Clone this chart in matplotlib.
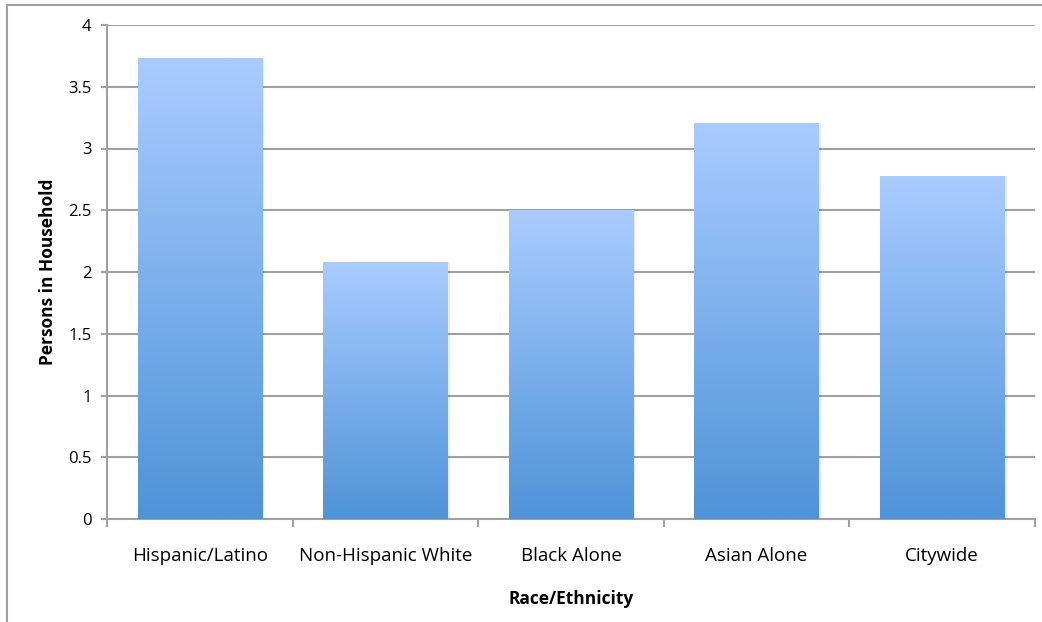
import matplotlib.pyplot as plt
import numpy as np
from matplotlib.colors import LinearSegmentedColormap
from matplotlib.lines import Line2D

plt.rcParams['font.family'] = ['Open Sans', 'DejaVu Sans']

groups = ['Hispanic/Latino', 'Non-Hispanic White', 'Black Alone', 'Asian Alone', 'Citywide']
persons = [3.73, 2.08, 2.50, 3.21, 2.78]
yticks = [0, 0.5, 1, 1.5, 2, 2.5, 3, 3.5, 4]
ytick_labels = ['0', '0.5', '1', '1.5', '2', '2.5', '3', '3.5', '4']

fig = plt.figure(figsize=(10.42, 6.22), dpi=100)
ax = fig.add_axes([107 / 1042, 1 - 519 / 622, 928 / 1042, 494 / 622])

grad = LinearSegmentedColormap.from_list('bar', ['#4f93d8', '#a9ccff'])
grad_img = np.linspace(0, 1, 256).reshape(-1, 1)

for i, v in enumerate(persons):
    left, w = i - 0.335, 0.67
    # soft shadow
    ax.bar(i + 0.012, v, width=w, bottom=0, color='#000000', alpha=0.08, zorder=2, linewidth=0)
    bar = ax.bar(i, v, width=w, color='none', linewidth=0, zorder=3)[0]
    im = ax.imshow(grad_img, cmap=grad, origin='lower', aspect='auto',
                   extent=[left, left + w, 0, v], zorder=3)
    im.set_clip_path(bar)

ax.set_xlim(-0.5, len(groups) - 0.5)
ax.set_ylim(0, 4)

ax.set_yticks(yticks)
ax.set_yticklabels(ytick_labels, fontsize=12)
ax.yaxis.grid(True, color='#a0a0a0', linewidth=1.5, zorder=1)
ax.set_axisbelow(True)

ax.set_xticks(range(len(groups)))
ax.set_xticklabels(groups, fontsize=13.5)
ax.tick_params(axis='x', length=0, pad=20)
ax.set_xticks(np.arange(-0.5, len(groups)), minor=True)
ax.tick_params(axis='x', which='minor', length=6, width=1.5, color='#a0a0a0', direction='out')
ax.tick_params(axis='y', length=4, width=1.5, color='#a0a0a0', pad=7)

for s in ['top', 'right']:
    ax.spines[s].set_visible(False)
for s in ['left', 'bottom']:
    ax.spines[s].set_color('#a0a0a0')
    ax.spines[s].set_linewidth(1.5)

ax.set_ylabel('Persons in Household', fontsize=12.5, fontweight='bold', labelpad=8)
ax.set_xlabel('Race/Ethnicity', fontsize=12.5, fontweight='bold', labelpad=18)

# outer chart frame (partially visible)
fig.add_artist(Line2D([7 / 1042, 7 / 1042], [0, 1 - 5 / 622], color='#a0a0a0', linewidth=1.5))
fig.add_artist(Line2D([7 / 1042, 1], [1 - 5 / 622, 1 - 5 / 622], color='#a0a0a0', linewidth=1.5))

fig.savefig('out.png', dpi=100, facecolor='white')
